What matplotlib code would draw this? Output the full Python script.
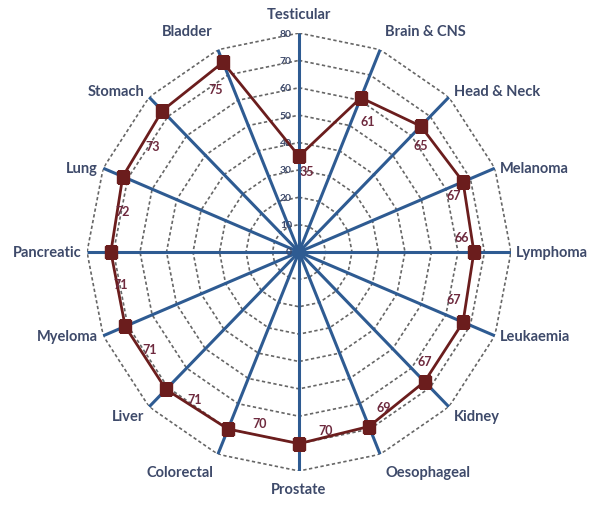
import numpy as np
import matplotlib
matplotlib.use("Agg")
import matplotlib.pyplot as plt

# five-year survival (%) by cancer site, clockwise from the top
sites = ["Testicular", "Brain & CNS", "Head & Neck", "Melanoma", "Lymphoma",
         "Leukaemia", "Kidney", "Oesophageal", "Prostate", "Colorectal",
         "Liver", "Myeloma", "Pancreatic", "Lung", "Stomach", "Bladder"]
survival = [35, 61, 65, 67, 66, 67, 67, 69, 70, 70, 71, 71, 71, 72, 73, 75]
rings = [10, 20, 30, 40, 50, 60, 70, 80]
ring_labels = ["10", "20", "30", "40", "50", "60", "70", "80"]

# pixel offsets of the value labels from their markers
label_offsets = [(8, -15), (7, -23), (0, -19), (-9, -13), (-12, 15), (-9, 23),
                 (0, 21), (15, 20), (27, 14), (32, 6), (29, -10), (24, -23),
                 (10, -32), (0, -34), (-10, -35), (-7, -27)]

AXIS_BLUE = "#2E5B92"
SERIES = "#6B1D1D"
TEXT = "#3E4A6A"

plt.rcParams["font.family"] = ["Lato", "DejaVu Sans"]

fig = plt.figure(figsize=(5.9, 5.06), dpi=100)
ax = fig.add_axes([0.1475, 0.0672, 0.7186, 0.8656], polar=True)
ax.set_aspect("auto")
ax.set_theta_zero_location("N")
ax.set_theta_direction(-1)
ax.set_ylim(0, 80)
ax.grid(False)
ax.spines["polar"].set_visible(False)
ax.set_xticks([])
ax.set_yticks([])

n = len(sites)
theta = np.arange(n) * 2 * np.pi / n
closed = np.append(theta, theta[0])

# dotted polygon rings
for r in rings:
    ax.plot(closed, [r] * (n + 1), color="#666666", lw=1.2,
            linestyle=(0, (2, 1.5)), zorder=1)

# spokes
for t in theta:
    ax.plot([t, t], [0, 80], color=AXIS_BLUE, lw=2.2, zorder=2,
            solid_capstyle="butt")
ax.plot([0], [0], marker="o", markersize=9, color=AXIS_BLUE, zorder=2)

# scale labels along the top spoke
for r, lab in zip([0] + rings, ["0"] + ring_labels):
    ax.annotate(lab, (0, r), xytext=(-7, 0), textcoords="offset pixels",
                ha="right", va="center", fontsize=7.5, fontweight="bold",
                color=TEXT)

# series
vals = np.append(survival, survival[0])
ax.plot(closed, vals, color=SERIES, lw=2.0, zorder=3)
ax.plot(theta, survival, linestyle="none", marker="s", markersize=9,
        color=SERIES, zorder=4)

for t, v, (dx, dy) in zip(theta, survival, label_offsets):
    ax.annotate(str(v), (t, v), xytext=(dx, dy), textcoords="offset pixels",
                ha="center", va="center", fontsize=9, fontweight="bold",
                color="#6E2A3E", zorder=5)

# category labels outside the outer ring
for t, name in zip(theta, sites):
    s, c = np.sin(t), np.cos(t)
    if abs(s) < 0.1:
        ha, dx = "center", 0
    elif s > 0:
        ha, dx = "left", 5
    else:
        ha, dx = "right", -5
    if c > 0.9:
        va, dy = "center", 19
    elif c < -0.9:
        va, dy = "center", -18
    elif c > 0.5:
        va, dy = "center", 6
    elif c < -0.5:
        va, dy = "center", -9
    else:
        va, dy = "center", 0
    ax.annotate(name, (t, 80), xytext=(dx, dy), textcoords="offset pixels",
                ha=ha, va=va, fontsize=10.5, fontweight="bold", color=TEXT,
                annotation_clip=False)

fig.savefig("out.png", dpi=100)
